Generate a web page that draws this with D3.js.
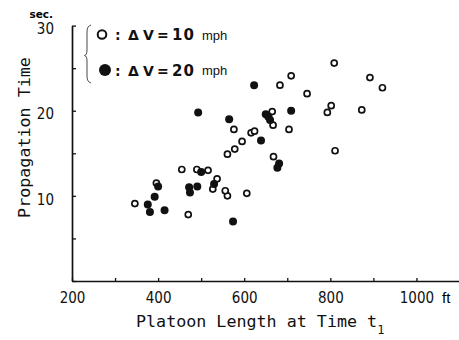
<!DOCTYPE html>
<html>
<head>
<meta charset="utf-8">
<script src="https://cdn.jsdelivr.net/npm/d3@7"></script>
<style>
  body { margin: 0; background: #fff; }
  svg { display: block; }
  .tick text { font-family: "Liberation Sans Narrow", "DejaVu Sans Condensed", sans-serif; font-size: 15px; fill: #111; }
  .title { font-family: "DejaVu Sans Mono", monospace; font-size: 16.7px; fill: #111; }
  .leg { font-family: "DejaVu Sans", sans-serif; font-weight: bold; font-size: 14px; fill: #111; }
  .unit { font-family: "Liberation Sans Narrow", sans-serif; font-size: 13px; fill: #111; }
</style>
</head>
<body>
<div id="chart"></div>
<script>
// Platoon length (ft) vs propagation time (sec)
const lengthsDV10 = [346, 396, 455, 470, 490, 516, 537, 527, 561, 606, 556, 561, 578, 576, 595, 616,
  624, 665, 667, 668, 683, 709, 704, 746, 793, 802, 809, 811, 873, 892, 921];
const timesDV10 = [9.1, 11.5, 13.1, 7.8, 13.1, 13.0, 12.0, 10.8, 10.0, 10.3, 10.6, 14.9, 15.5, 17.8, 16.4, 17.4,
  17.6, 19.9, 18.3, 14.6, 23.0, 24.1, 17.8, 22.0, 19.8, 20.6, 25.6, 15.3, 20.1, 23.9, 22.7];

const lengthsDV20 = [376, 381, 392, 400, 415, 472, 474, 491, 500, 530, 574, 493, 565, 623, 639, 650,
  656, 660, 709, 681, 677];
const timesDV20 = [9.0, 8.1, 9.9, 11.1, 8.3, 11.0, 10.4, 11.1, 12.8, 11.4, 7.0, 19.8, 19.0, 23.0, 16.5, 19.6,
  19.3, 18.9, 20.0, 13.8, 13.3];

const xTicks = [200, 300, 400, 500, 600, 700, 800, 900, 1000, 1100];
const xLabels = [200, 400, 600, 800, 1000];
const yTicks = [0, 5, 10, 15, 20, 25, 30];
const yLabels = [10, 20, 30];

const W = 459, H = 340;
const svg = d3.select("#chart").append("svg")
  .attr("width", W)
  .attr("height", H);

const x = d3.scaleLinear().domain([200, 1100]).range([72, 459.5]);
const y = d3.scaleLinear().domain([0, 30]).range([281, 25.6]);

// axes, ticks pointing inward
const xAxis = svg.append("g")
  .attr("transform", "translate(0," + y(0) + ")")
  .call(d3.axisBottom(x)
    .tickValues(xTicks)
    .tickSizeInner(-3)
    .tickSizeOuter(0)
    .tickPadding(11)
    .tickFormat(d => xLabels.includes(d) ? d : ""));

const yAxis = svg.append("g")
  .attr("transform", "translate(" + x(200) + ",0)")
  .call(d3.axisLeft(y)
    .tickValues(yTicks)
    .tickSizeInner(-4)
    .tickSizeOuter(0)
    .tickPadding(18)
    .tickFormat(d => yLabels.includes(d) ? d : ""));

svg.selectAll(".domain").attr("stroke", "#111").attr("stroke-width", 1.7);
svg.selectAll(".tick line").attr("stroke", "#111").attr("stroke-width", 1.3);
yAxis.selectAll(".tick text").attr("dy", "0.55em");

svg.append("text")
  .attr("x", 442).attr("y", 302.5)
  .style("font-family", "Liberation Sans, sans-serif")
  .style("font-size", "15px")
  .text("ft");

svg.append("text")
  .attr("x", 53).attr("y", 18)
  .attr("text-anchor", "end")
  .style("font-family", "DejaVu Sans, sans-serif")
  .style("font-weight", "bold")
  .style("font-size", "10.5px")
  .text("sec.");

// axis titles
const xt = svg.append("text")
  .attr("class", "title")
  .attr("x", 136).attr("y", 327);
xt.append("tspan").text("Platoon Length at Time t");
xt.append("tspan").attr("dy", 7).style("font-size", "12px").text("1");

svg.append("text")
  .attr("class", "title")
  .attr("transform", "translate(30,137.5) rotate(-90)")
  .attr("text-anchor", "middle")
  .text("Propagation Time");

// data points
svg.append("g").selectAll("circle")
  .data(lengthsDV10.map((v, i) => [v, timesDV10[i]]))
  .join("circle")
  .attr("cx", d => x(d[0]))
  .attr("cy", d => y(d[1]))
  .attr("r", 3)
  .attr("fill", "#fff")
  .attr("stroke", "#111")
  .attr("stroke-width", 1.7);

svg.append("g").selectAll("circle")
  .data(lengthsDV20.map((v, i) => [v, timesDV20[i]]))
  .join("circle")
  .attr("cx", d => x(d[0]))
  .attr("cy", d => y(d[1]))
  .attr("r", 4)
  .attr("fill", "#111");

// legend with brace
svg.append("path")
  .attr("d", "M91,25 Q87,26 87,32 L87,50 Q87,55 84.5,55.5 Q87,56 87,61 L87,76 Q87,82 91,83")
  .attr("fill", "none")
  .attr("stroke", "#333")
  .attr("stroke-width", 0.9);

const legendRows = [
  { label: "10", open: true, cy: 34.5 },
  { label: "20", open: false, cy: 70 }
];

legendRows.forEach(r => {
  svg.append("circle")
    .attr("cx", r.open ? 102 : 105)
    .attr("cy", r.cy)
    .attr("r", r.open ? 4.3 : 6)
    .attr("fill", r.open ? "#fff" : "#111")
    .attr("stroke", "#111")
    .attr("stroke-width", r.open ? 2 : 0);
  const t = svg.append("text").attr("class", "leg").attr("y", r.cy + 5.5);
  t.append("tspan").attr("x", 115).text(":");
  t.append("tspan").attr("x", 128).text("Δ");
  t.append("tspan").attr("x", 143).text("V");
  t.append("tspan").attr("x", 157).text("=");
  t.append("tspan").attr("x", 172).style("font-size", "15px").style("letter-spacing", "1px").text(r.label);
  svg.append("text").attr("class", "unit")
    .attr("x", 202).attr("y", r.cy + 5)
    .text("mph");
});
</script>
</body>
</html>
